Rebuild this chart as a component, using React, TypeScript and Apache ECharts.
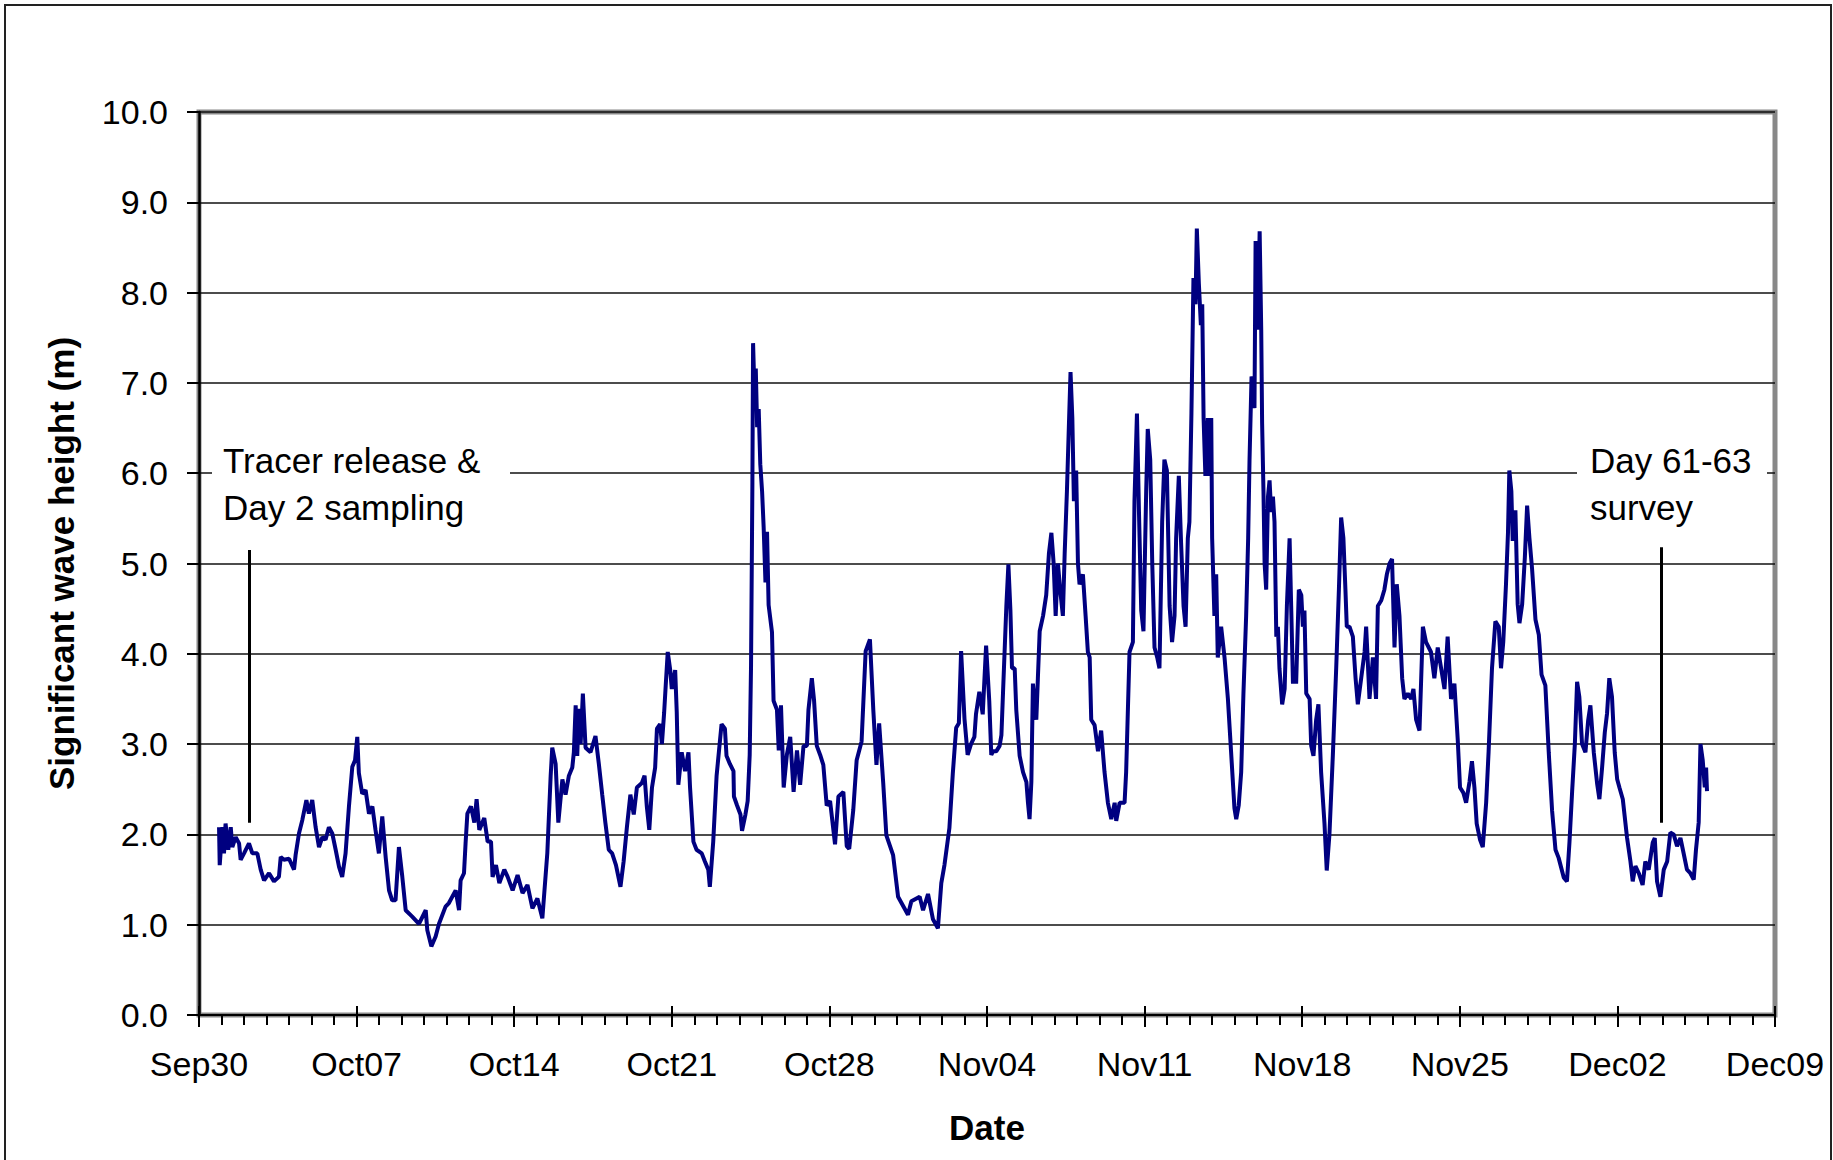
import React, { useEffect, useRef } from "react";
import * as echarts from "echarts";

const FONT = "'Liberation Sans', Arial, Helvetica, sans-serif";

// x values: days since Sep 30; y values: significant wave height (m)
const dateTickLabels = ["Sep30", "Oct07", "Oct14", "Oct21", "Oct28", "Nov04", "Nov11", "Nov18", "Nov25", "Dec02", "Dec09"];
const yTickValues = [0, 1, 2, 3, 4, 5, 6, 7, 8, 9, 10];

const segSepOct: [number, number][] = [
  [0.89, 2.08], [0.92, 1.66], [1.04, 2.08], [1.11, 1.79], [1.18, 2.12], [1.3, 1.83], [1.41, 2.08], [1.48, 1.86],
  [1.63, 1.97], [1.78, 1.9], [1.85, 1.72], [2.0, 1.79], [2.22, 1.9], [2.37, 1.79], [2.59, 1.79], [2.74, 1.61],
  [2.89, 1.49], [3.11, 1.57], [3.33, 1.48], [3.55, 1.53], [3.63, 1.75], [3.77, 1.72], [4.0, 1.73], [4.22, 1.61],
  [4.29, 1.77], [4.44, 2.01], [4.59, 2.16], [4.77, 2.38], [4.88, 2.23], [5.03, 2.38], [5.18, 2.08], [5.33, 1.86],
  [5.48, 1.97], [5.62, 1.94], [5.77, 2.08], [5.92, 2.01], [6.07, 1.83], [6.22, 1.64], [6.36, 1.53], [6.51, 1.79],
  [6.66, 2.31], [6.81, 2.75], [6.93, 2.82], [7.03, 3.08], [7.1, 2.68], [7.25, 2.45], [7.4, 2.49], [7.55, 2.23],
  [7.7, 2.31], [7.84, 2.05], [7.99, 1.79], [8.14, 2.2], [8.29, 1.75], [8.44, 1.38], [8.58, 1.27], [8.73, 1.27],
  [8.88, 1.86], [9.03, 1.53], [9.18, 1.16], [9.47, 1.09], [9.77, 1.01], [10.07, 1.16], [10.14, 0.94], [10.32, 0.76],
  [10.51, 0.87], [10.66, 1.01], [10.95, 1.2], [11.1, 1.24], [11.4, 1.38], [11.55, 1.16], [11.62, 1.49], [11.77, 1.57],
  [11.84, 1.9], [11.92, 2.23], [12.08, 2.31],
];

const segOct: [number, number][] = [
  [12.23, 2.13], [12.33, 2.39], [12.45, 2.05], [12.67, 2.18], [12.82, 1.92], [12.97, 1.92], [13.04, 1.53], [13.19, 1.66],
  [13.34, 1.46], [13.56, 1.61], [13.71, 1.53], [13.93, 1.38], [14.15, 1.55], [14.37, 1.35], [14.59, 1.44], [14.81, 1.18],
  [15.03, 1.29], [15.25, 1.07], [15.47, 1.79], [15.62, 2.65], [15.69, 2.96], [15.84, 2.78], [15.96, 2.13], [16.14, 2.61],
  [16.28, 2.44], [16.43, 2.65], [16.58, 2.74], [16.65, 2.91], [16.73, 3.43], [16.8, 2.87], [16.87, 3.39], [16.95, 3.0],
  [17.05, 3.56], [17.17, 2.96], [17.39, 2.91], [17.61, 3.09], [17.76, 2.78], [17.91, 2.44], [18.05, 2.13], [18.2, 1.83],
  [18.35, 1.79], [18.52, 1.66], [18.72, 1.42], [18.86, 1.7], [19.01, 2.09], [19.16, 2.44], [19.31, 2.22], [19.45, 2.52],
  [19.67, 2.57], [19.79, 2.65], [19.89, 2.31], [20.0, 2.05], [20.12, 2.52], [20.26, 2.74], [20.34, 3.17], [20.48, 3.22],
  [20.56, 3.0], [20.66, 3.35], [20.73, 3.65], [20.82, 4.02], [20.93, 3.82], [21.0, 3.61], [21.15, 3.82], [21.22, 3.35],
  [21.29, 2.55], [21.44, 2.91], [21.59, 2.7], [21.74, 2.91], [21.81, 2.52], [21.96, 1.92], [22.1, 1.83], [22.33, 1.79],
  [22.47, 1.7], [22.62, 1.61], [22.69, 1.42], [22.84, 1.92], [22.99, 2.65], [23.14, 3.04], [23.21, 3.22], [23.36, 3.17],
  [23.43, 2.87], [23.58, 2.78], [23.74, 2.7],
];

const segOctNov: [number, number][] = [
  [23.76, 2.42], [23.9, 2.32], [24.05, 2.22], [24.12, 2.04], [24.27, 2.22], [24.37, 2.37], [24.46, 2.88], [24.52, 3.88],
  [24.58, 5.9], [24.61, 7.44], [24.67, 6.91], [24.73, 7.16], [24.79, 6.51], [24.86, 6.71], [24.93, 6.1], [25.01, 5.8],
  [25.08, 5.4], [25.16, 4.79], [25.23, 5.35], [25.3, 4.54], [25.45, 4.24], [25.52, 3.48], [25.67, 3.38], [25.75, 2.93],
  [25.85, 3.43], [25.97, 2.52], [26.11, 2.88], [26.26, 3.08], [26.41, 2.47], [26.56, 2.93], [26.7, 2.55], [26.85, 2.98],
  [27.0, 2.98], [27.07, 3.38], [27.22, 3.73], [27.32, 3.48], [27.44, 2.98], [27.59, 2.88], [27.73, 2.77], [27.88, 2.32],
  [28.03, 2.37], [28.25, 1.89], [28.4, 2.42], [28.62, 2.47], [28.77, 1.87], [28.88, 1.84], [29.06, 2.27], [29.21, 2.82],
  [29.43, 3.03], [29.61, 4.03], [29.8, 4.16], [29.95, 3.38], [30.09, 2.77], [30.21, 3.23], [30.39, 2.57], [30.53, 1.99],
  [30.83, 1.77], [31.05, 1.31], [31.27, 1.21], [31.49, 1.11], [31.64, 1.26], [32.01, 1.31], [32.16, 1.16], [32.38, 1.34],
  [32.6, 1.06], [32.82, 0.96], [32.97, 1.46], [33.11, 1.66], [33.33, 2.07], [33.48, 2.67], [33.63, 3.18], [33.75, 3.23],
  [33.85, 4.03], [34.0, 3.28], [34.14, 2.88], [34.29, 3.0], [34.44, 3.08], [34.51, 3.33], [34.66, 3.58], [34.81, 3.33],
  [34.96, 4.09], [35.1, 3.48], [35.19, 2.88],
];

const segNovEarly: [number, number][] = [
  [35.27, 2.92], [35.41, 2.92], [35.56, 2.98], [35.64, 3.1], [35.71, 3.56], [35.86, 4.53], [35.95, 4.99], [36.04, 4.48],
  [36.11, 3.84], [36.23, 3.84], [36.3, 3.38], [36.45, 2.87], [36.6, 2.69], [36.75, 2.58], [36.82, 2.35], [36.89, 2.17],
  [36.97, 2.58], [37.04, 3.67], [37.19, 3.27], [37.26, 3.73], [37.34, 4.25], [37.49, 4.42], [37.63, 4.65], [37.75, 5.11],
  [37.86, 5.34], [37.96, 5.0], [38.05, 4.42], [38.15, 5.0], [38.25, 4.71], [38.37, 4.42], [38.45, 5.11], [38.55, 5.8],
  [38.64, 6.55], [38.71, 7.12], [38.79, 6.61], [38.86, 5.69], [38.96, 6.03], [39.04, 5.0], [39.11, 4.77], [39.26, 4.88],
  [39.38, 4.42], [39.48, 4.02], [39.56, 3.96], [39.63, 3.27], [39.78, 3.21], [39.93, 2.92], [40.07, 3.15], [40.22, 2.69],
  [40.37, 2.35], [40.52, 2.17], [40.67, 2.35], [40.74, 2.15], [40.89, 2.35], [41.11, 2.35], [41.18, 2.69], [41.33, 4.02],
  [41.48, 4.13], [41.55, 5.69], [41.66, 6.66], [41.75, 5.57], [41.85, 4.48], [41.95, 4.25], [42.07, 5.8], [42.14, 6.49],
  [42.25, 6.15], [42.34, 5.0], [42.44, 4.07], [42.56, 3.96], [42.66, 3.84], [42.78, 5.46], [42.88, 6.15], [42.99, 6.03],
  [43.11, 4.53], [43.22, 4.13], [43.33, 4.42], [43.4, 5.28], [43.52, 5.97], [43.62, 5.23], [43.73, 4.53], [43.82, 4.3],
  [43.92, 5.28], [43.99, 5.46], [44.08, 6.66], [44.17, 8.16], [44.26, 7.87], [44.32, 8.71], [44.41, 8.1], [44.5, 7.64],
  [44.56, 7.87], [44.62, 6.61], [44.7, 5.97], [44.81, 6.61], [44.88, 5.97], [44.96, 6.61], [45.0, 5.28], [45.1, 4.42],
  [45.18, 4.88], [45.25, 3.96], [45.4, 4.3], [45.55, 3.96], [45.7, 3.5], [45.84, 2.92], [45.99, 2.29], [46.07, 2.17],
  [46.18, 2.32], [46.29, 2.69], [46.39, 3.56], [46.51, 4.42], [46.6, 5.28], [46.66, 6.14], [46.75, 7.07],
];

const segNovLate: [number, number][] = [
  [46.81, 7.01], [46.88, 6.72], [46.93, 8.57], [47.03, 7.59], [47.11, 8.68], [47.18, 7.59], [47.22, 6.55], [47.28, 5.8],
  [47.33, 5.0], [47.4, 4.71], [47.48, 5.74], [47.55, 5.92], [47.62, 5.57], [47.7, 5.74], [47.77, 5.46], [47.85, 4.19],
  [47.92, 4.3], [47.99, 3.84], [48.11, 3.44], [48.22, 3.61], [48.32, 4.53], [48.44, 5.28], [48.51, 4.53], [48.59, 3.67],
  [48.66, 3.84], [48.73, 3.67], [48.85, 4.71], [48.96, 4.65], [49.03, 4.3], [49.1, 4.48], [49.18, 3.56], [49.33, 3.5],
  [49.4, 2.98], [49.5, 2.87], [49.62, 3.27], [49.72, 3.44], [49.84, 2.69], [49.99, 2.12], [50.09, 1.6], [50.21, 2.0],
  [50.36, 2.87], [50.51, 3.84], [50.63, 4.71], [50.73, 5.51], [50.83, 5.28], [50.92, 4.71], [50.98, 4.3], [51.1, 4.3],
  [51.25, 4.19], [51.37, 3.73], [51.47, 3.44], [51.62, 3.73], [51.77, 4.02], [51.84, 4.3], [51.99, 3.5], [52.14, 3.96],
  [52.28, 3.5], [52.36, 4.53], [52.51, 4.59], [52.65, 4.71], [52.76, 4.88], [52.88, 5.0], [52.99, 5.05], [53.1, 4.07],
  [53.2, 4.77], [53.32, 4.42], [53.44, 3.73], [53.54, 3.5], [53.69, 3.56], [53.84, 3.5], [53.94, 3.61], [54.06, 3.27],
  [54.21, 3.15], [54.36, 4.3], [54.5, 4.13], [54.72, 4.02], [54.87, 3.73], [55.02, 4.07], [55.17, 3.84], [55.32, 3.61],
  [55.46, 4.19], [55.61, 3.5], [55.76, 3.67], [55.91, 3.04], [56.01, 2.52], [56.16, 2.46], [56.28, 2.35], [56.43, 2.58],
  [56.54, 2.81], [56.65, 2.52], [56.75, 2.12], [56.9, 1.94], [57.02, 1.86], [57.17, 2.35], [57.28, 2.92], [57.43, 3.84],
  [57.58, 4.36], [57.73, 4.3], [57.83, 3.84], [57.93, 4.13], [58.05, 4.76], [58.14, 5.34], [58.2, 6.03], [58.29, 5.8],
];

const segNovDec: [number, number][] = [
  [58.35, 5.25], [58.47, 5.59], [58.57, 4.55], [58.65, 4.34], [58.77, 4.55], [58.89, 5.07], [58.99, 5.64], [59.09, 5.29],
  [59.21, 4.94], [59.36, 4.38], [59.51, 4.21], [59.63, 3.77], [59.8, 3.65], [59.95, 2.91], [60.1, 2.26], [60.25, 1.83],
  [60.39, 1.74], [60.62, 1.52], [60.76, 1.48], [60.87, 1.91], [60.99, 2.48], [61.11, 3.0], [61.21, 3.69], [61.31, 3.52],
  [61.43, 3.0], [61.58, 2.91], [61.7, 3.26], [61.8, 3.43], [61.95, 2.91], [62.1, 2.56], [62.2, 2.39], [62.32, 2.74],
  [62.44, 3.13], [62.54, 3.34], [62.64, 3.73], [62.76, 3.52], [62.88, 2.91], [62.99, 2.61], [63.09, 2.52], [63.24, 2.39],
  [63.43, 1.96], [63.58, 1.7], [63.68, 1.48], [63.8, 1.65], [63.95, 1.57], [64.12, 1.44], [64.24, 1.7], [64.39, 1.61],
  [64.57, 1.91], [64.66, 1.96], [64.76, 1.48], [64.91, 1.31], [65.06, 1.61], [65.21, 1.7], [65.35, 2.02], [65.5, 2.0],
  [65.65, 1.87], [65.8, 1.96], [65.95, 1.78], [66.09, 1.61], [66.24, 1.57], [66.39, 1.5], [66.49, 1.83], [66.61, 2.13],
  [66.69, 3.0], [66.79, 2.82], [66.88, 2.52], [66.94, 2.74], [66.98, 2.48],
];

// annotation markers: [day, top value, bottom value]
const releaseMarker = [2.22, 5.15, 2.13];
const surveyMarker = [64.96, 5.18, 2.13];

export default function App() {
  const ref = useRef<HTMLDivElement>(null);

  useEffect(() => {
    if (!ref.current) return;
    const chart = echarts.init(ref.current, undefined, { renderer: "svg" });
    const allPoints = [...segSepOct, ...segOct, ...segOctNov, ...segNovEarly, ...segNovLate, ...segNovDec];

    const option: any = {
      animation: false,
      backgroundColor: "#ffffff",
      grid: {
        left: 199,
        top: 112,
        right: 58,
        bottom: 145,
        show: true,
        borderColor: "#888888",
        borderWidth: 5,
        backgroundColor: "transparent",
      },
      xAxis: [
        {
          type: "value",
          min: 0,
          max: 70,
          interval: 7,
          position: "bottom",
          axisLine: { show: true, onZero: false, lineStyle: { color: "#000", width: 2 } },
          axisTick: { show: true, inside: false, length: 12, lineStyle: { color: "#000", width: 2 } },
          minorTick: { show: true, splitNumber: 7, length: 10, lineStyle: { color: "#000", width: 2 } },
          axisLabel: {
            margin: 32,
            fontSize: 34,
            color: "#000",
            fontFamily: FONT,
            formatter: (v: number) => dateTickLabels[Math.round(v / 7)] ?? "",
          },
          splitLine: { show: false },
          minorSplitLine: { show: false },
          name: "Date",
          nameLocation: "middle",
          nameGap: 95,
          nameTextStyle: { fontSize: 35, fontWeight: "bold", color: "#000", fontFamily: FONT },
        },
        {
          type: "value",
          min: 0,
          max: 70,
          interval: 7,
          position: "bottom",
          axisLine: { show: false, onZero: false },
          axisTick: { show: true, inside: true, length: 9, lineStyle: { color: "#000", width: 2 } },
          axisLabel: { show: false },
          splitLine: { show: false },
        },
      ],
      yAxis: {
        type: "value",
        min: yTickValues[0],
        max: yTickValues[yTickValues.length - 1],
        interval: 1,
        axisLine: { show: true, lineStyle: { color: "#000", width: 2.5 } },
        axisTick: { show: true, inside: false, length: 12, lineStyle: { color: "#000", width: 2 } },
        axisLabel: {
          margin: 31,
          fontSize: 34,
          color: "#000",
          fontFamily: FONT,
          formatter: (v: number) => v.toFixed(1),
        },
        splitLine: { show: true, lineStyle: { color: "#111", width: 1.5 } },
        name: "Significant wave height (m)",
        nameLocation: "middle",
        nameGap: 120,
        nameRotate: 90,
        nameTextStyle: { fontSize: 35, fontWeight: "bold", color: "#000", fontFamily: FONT },
      },
      series: [
        {
          type: "line",
          xAxisIndex: 0,
          data: allPoints,
          showSymbol: false,
          symbol: "none",
          lineStyle: { color: "#000080", width: 4 },
          z: 3,
          markLine: {
            silent: true,
            symbol: ["none", "none"],
            label: { show: false },
            lineStyle: { color: "#000", width: 3, type: "solid" },
            data: [
              [{ coord: [releaseMarker[0], releaseMarker[1]] }, { coord: [releaseMarker[0], releaseMarker[2]] }],
              [{ coord: [surveyMarker[0], surveyMarker[1]] }, { coord: [surveyMarker[0], surveyMarker[2]] }],
            ],
          },
        },
      ],
      graphic: [
        {
          type: "rect",
          z: 100,
          shape: { x: 5, y: 5, width: 1826, height: 1200 },
          style: { fill: "none", stroke: "#222", lineWidth: 2 },
          silent: true,
        },
        {
          type: "rect",
          z: 100,
          shape: { x: 212, y: 440, width: 298, height: 95 },
          style: { fill: "#fff" },
          silent: true,
        },
        {
          type: "rect",
          z: 100,
          shape: { x: 1577, y: 440, width: 190, height: 95 },
          style: { fill: "#fff" },
          silent: true,
        },
        {
          type: "text",
          z: 101,
          left: 223,
          top: 437,
          style: {
            text: "Tracer release &\nDay 2 sampling",
            fill: "#000",
            fontSize: 35,
            fontFamily: FONT,
            lineHeight: 47,
          },
        },
        {
          type: "text",
          z: 101,
          left: 1590,
          top: 437,
          style: {
            text: "Day 61-63\nsurvey",
            fill: "#000",
            fontSize: 35,
            fontFamily: FONT,
            lineHeight: 47,
          },
        },
      ],
    };

    chart.setOption(option);
    return () => chart.dispose();
  }, []);

  return (
    <div
      ref={ref}
      style={{ position: "absolute", left: 0, top: 0, width: 1833, height: 1160, background: "#fff" }}
    />
  );
}
